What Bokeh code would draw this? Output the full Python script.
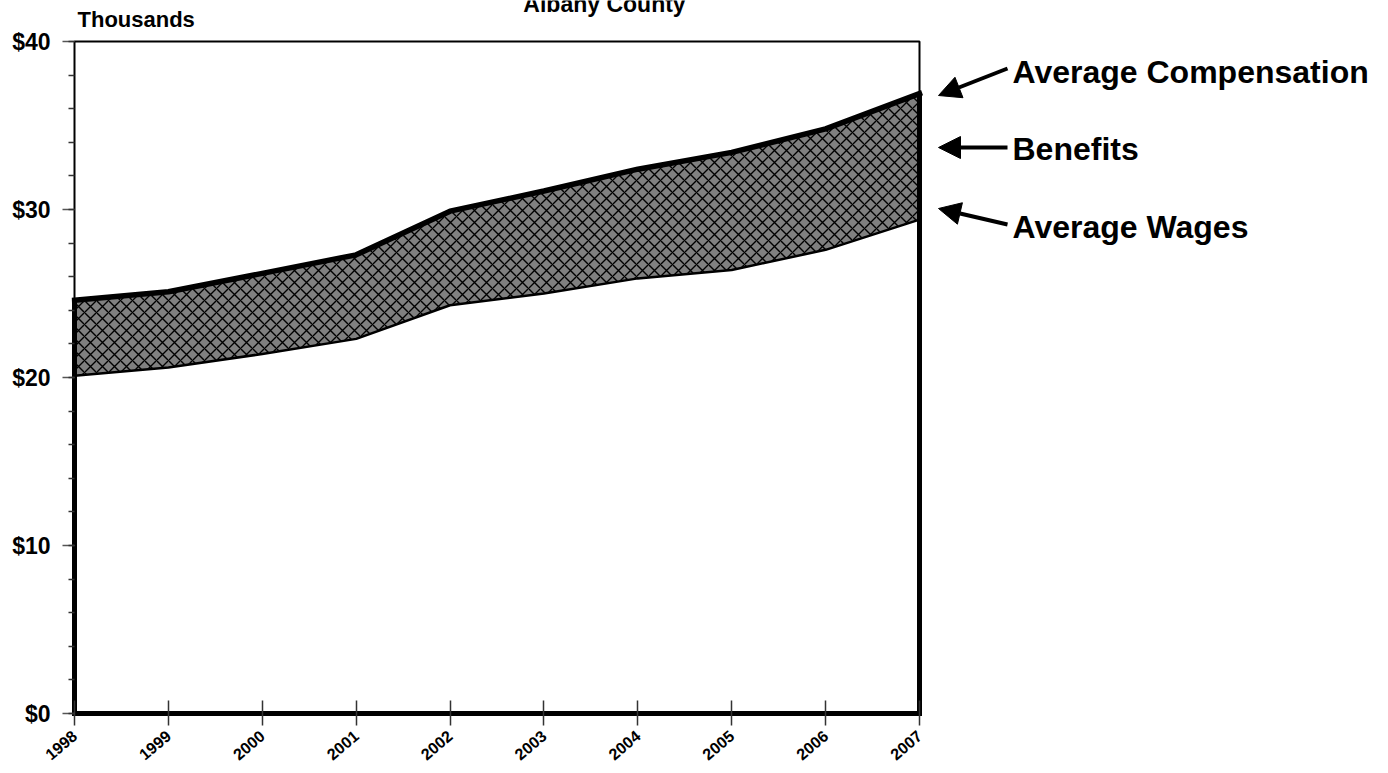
from bokeh.plotting import figure
from bokeh.models import Label, Arrow, NormalHead, FixedTicker, PrintfTickFormatter, Range1d
from bokeh.embed import file_html
from bokeh.resources import INLINE

# ---------------- data ----------------
years = [1998, 1999, 2000, 2001, 2002, 2003, 2004, 2005, 2006, 2007]
avg_compensation = [24.6, 25.1, 26.2, 27.3, 29.9, 31.1, 32.4, 33.4, 34.8, 36.9]
avg_wages = [20.1, 20.6, 21.4, 22.3, 24.3, 25.0, 25.9, 26.4, 27.6, 29.4]
y_major_ticks = [0, 10, 20, 30, 40]
y_minor_ticks = list(range(0, 42, 2))
series_labels = ["Average Compensation", "Benefits", "Average Wages"]
title_text = "Albany County"
unit_text = "Thousands"

# ---------------- layout helpers (pixels) ----------------
PX_YEAR = 845 / 9.0     # pixels per year
PX_K = 672 / 40.0       # pixels per $1000
X0 = 74                 # canvas x of first year
Y0 = 713                # canvas y of $0
FRAME_L, FRAME_R, FRAME_T, FRAME_B = 71, 1384, 0, 716
FONT = "Liberation Sans"


def dx(px):
    return years[0] + (px - X0) / PX_YEAR


def dy(py):
    return (Y0 - py) / PX_K


p = figure(
    frame_width=FRAME_R - FRAME_L, frame_height=FRAME_B - FRAME_T,
    x_range=Range1d(dx(FRAME_L), dx(FRAME_R)),
    y_range=Range1d(dy(FRAME_B), dy(FRAME_T)),
    min_border_left=FRAME_L, min_border_right=0, min_border_top=FRAME_T, min_border_bottom=52,
    output_backend="svg", toolbar_location=None,
    background_fill_color="white", border_fill_color="white",
    outline_line_color=None,
)
p.grid.visible = False

# x axis
p.xaxis.ticker = FixedTicker(ticks=years)
p.xaxis.axis_line_color = None
p.xaxis.major_tick_in = 16
p.xaxis.major_tick_out = 9
p.xaxis.major_tick_line_color = "#333333"
p.xaxis.major_tick_line_width = 1.5
p.xaxis.minor_tick_line_color = None
p.xaxis.major_label_orientation = 0.7
p.xaxis.major_label_standoff = 8
p.xaxis.major_label_text_font = FONT
p.xaxis.major_label_text_font_style = "bold"
p.xaxis.major_label_text_font_size = "16px"
p.xaxis.major_label_text_color = "black"

# y axis
p.yaxis.ticker = FixedTicker(ticks=y_major_ticks, minor_ticks=y_minor_ticks)
p.yaxis.formatter = PrintfTickFormatter(format="$%d")
p.yaxis.axis_line_color = None
p.yaxis.major_tick_in = 3
p.yaxis.major_tick_out = 9
p.yaxis.minor_tick_in = 3
p.yaxis.minor_tick_out = 3
p.yaxis.major_tick_line_color = "#555555"
p.yaxis.minor_tick_line_color = "#333333"
p.yaxis.major_tick_line_width = 1.5
p.yaxis.minor_tick_line_width = 1.5
p.yaxis.major_label_standoff = 12
p.yaxis.major_label_text_font = FONT
p.yaxis.major_label_text_font_style = "bold"
p.yaxis.major_label_text_font_size = "23px"
p.yaxis.major_label_text_color = "black"

# areas
p.varea(x=years, y1=0, y2=avg_wages, fill_color="white")
p.varea(x=years, y1=avg_wages, y2=avg_compensation, fill_color="#808080",
        hatch_pattern="diagonal_cross", hatch_color="black", hatch_scale=12, hatch_weight=1.4)

# thin plot border (top / left / right above data)
top = y_major_ticks[-1]
p.line([years[0], years[0], years[-1], years[-1]],
       [avg_compensation[0], top, top, avg_compensation[-1]],
       line_color="black", line_width=2)

# lines
p.line(years, avg_wages, line_color="black", line_width=2.5)
p.line([years[0], years[0], years[-1], years[-1]],
       [avg_compensation[0], 0, 0, avg_compensation[-1]],
       line_color="black", line_width=5, line_join="miter")
p.line(years, avg_compensation, line_color="black", line_width=5.5, line_cap="square")

# texts
text_kw = dict(text_font=FONT, text_font_style="bold", text_color="black")
p.add_layout(Label(x=dx(604), y=dy(3), text=title_text, text_align="center",
                   text_baseline="alphabetic", text_font_size="23px", **text_kw))
p.add_layout(Label(x=dx(77), y=dy(19), text=unit_text, text_align="left",
                   text_baseline="alphabetic", text_font_size="22px", **text_kw))
for lab, base in zip(series_labels, [71, 148, 226]):
    p.add_layout(Label(x=dx(1012), y=dy(base), text=lab, text_align="left",
                       text_baseline="alphabetic", text_font_size="32px", **text_kw))

# arrows
for (x1, y1, x2, y2) in [(1007, 68, 938, 95), (1007, 147, 938, 147), (1007, 224, 938, 208)]:
    p.add_layout(Arrow(end=NormalHead(size=22, fill_color="black", line_color="black"),
                       x_start=dx(x1), y_start=dy(y1), x_end=dx(x2), y_end=dy(y2),
                       line_width=4, line_color="black"))

open("out.html", "w").write(file_html(p, INLINE))
